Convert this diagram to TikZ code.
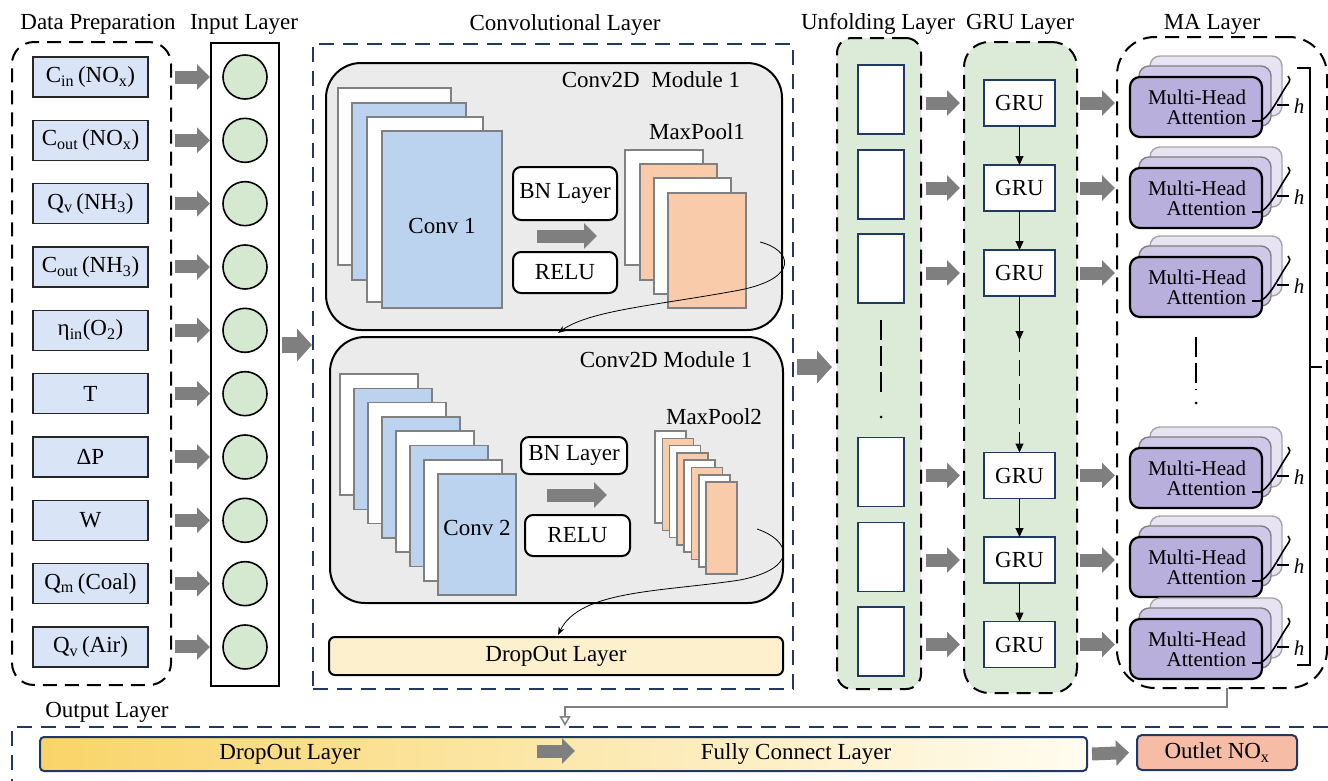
\documentclass[tikz,border=0pt]{standalone}
\usepackage{fontspec}
\setmainfont{Liberation Serif}
\usetikzlibrary{arrows.meta,calc}
\definecolor{dpblue}{HTML}{D9E5F6}
\definecolor{cgreen}{HTML}{D5E8D0}
\definecolor{modgray}{HTML}{EBEBEB}
\definecolor{convblue}{HTML}{BBD3EE}
\definecolor{poolor}{HTML}{F9CBAA}
\definecolor{dropy}{HTML}{FDF0CC}
\definecolor{lgreen}{HTML}{DCEBD8}
\definecolor{navy}{HTML}{1F3864}
\definecolor{mafront}{HTML}{B8AFDC}
\definecolor{mamid}{HTML}{CFC8E8}
\definecolor{maback}{HTML}{E7E3F3}
\definecolor{outletc}{HTML}{F6BCA5}
\definecolor{agray}{HTML}{7F7F7F}
\definecolor{bary}{HTML}{F9D468}
\definecolor{barw}{HTML}{FFFCF0}
\newcommand{\lowsub}[1]{\textsubscript{#1}}
\begin{document}
\begin{tikzpicture}[x=1pt,y=-1pt,
  every node/.style={inner sep=0pt, outer sep=0pt, font=\fontsize{23}{25}\selectfont},
  garrow/.style={draw=agray, line width=13pt, -{Triangle[length=13pt,width=25pt]}},
  bigarrow/.style={draw=agray, line width=16pt, -{Triangle[length=15pt,width=32pt]}},
  datbox/.style={draw=black!85, line width=1.6pt, fill=dpblue, minimum width=115pt, minimum height=40pt},
  incirc/.style={circle, draw=black, line width=1.6pt, fill=cgreen, minimum size=44pt},
  blackdash/.style={draw=black, line width=2pt, dash pattern=on 14pt off 8pt},
  navydash/.style={draw=navy, line width=1.8pt, dash pattern=on 15pt off 9pt},
  modbox/.style={draw=black, line width=2pt, fill=modgray, rounded corners=35pt},
  smallbox/.style={draw=black, line width=2pt, fill=white, rounded corners=8pt},
  fmw/.style={draw=gray, line width=1.6pt, fill=white},
  fmb/.style={draw=gray, line width=1.6pt, fill=convblue},
  fmo/.style={draw=gray, line width=1.6pt, fill=poolor},
  thinarr/.style={draw=black, line width=0.8pt, -{Stealth[length=8pt,width=6pt]}},
  unfbox/.style={draw=navy, line width=1.8pt, fill=white, minimum width=46pt, minimum height=69pt},
  grubox/.style={draw=navy, line width=1.8pt, fill=white, minimum width=71pt, minimum height=46pt},
  gruarr/.style={draw=black, line width=1pt, -{Triangle[length=9pt,width=8pt]}},
  mafr/.style={draw=black, line width=2.2pt, fill=mafront, rounded corners=10pt, minimum width=132pt, minimum height=60pt},
  mamd/.style={draw=gray, line width=1.4pt, fill=mamid, rounded corners=10pt},
  mabk/.style={draw=gray!70, line width=1.4pt, fill=maback, rounded corners=10pt},
  dotdash/.style={draw=black, line width=2pt, dash pattern=on 20pt off 6pt},
]
\useasboundingbox (0,0) rectangle (1328,780);
\fill[white] (0,0) rectangle (1328,780);

% titles
\node (tdp) at (98,24) {Data Preparation};
\node (tin) at (244,24) {Input Layer};
\node (tcv) at (565,25) {Convolutional Layer};
\node (tun) at (878,24) {Unfolding Layer};
\node (tgr) at (1020,24) {GRU Layer};
\node (tma) at (1212,24) {MA Layer};

% data preparation and input layer
\node[blackdash, rounded corners=22pt, minimum width=159pt, minimum height=643pt] (dp) at (91.5,363.5) {};
\node[draw=black, line width=1.8pt, fill=white, minimum width=68pt, minimum height=643pt] (inp) at (245,364.5) {};
\foreach \i/\t in {0/{C\lowsub{in}\,(NO\lowsub{x})},1/{C\lowsub{out}\,(NO\lowsub{x})},2/{Q\lowsub{v}\,(NH\lowsub{3})},3/{C\lowsub{out}\,(NH\lowsub{3})},4/{η\lowsub{in}(O\lowsub{2})},5/{T},6/{ΔP},7/{W},8/{Q\lowsub{m}\,(Coal)},9/{Q\lowsub{v}\,(Air)}}{
  \pgfmathsetmacro\yy{77+63.33*\i}
  \node[datbox] (d\i) at (90.5,\yy) {\t};
  \node[incirc] (c\i) at (245,\yy) {};
  \draw[garrow] ([xshift=4pt]dp.east |- d\i) -- ([xshift=-1pt]inp.west |- d\i);
}

% convolutional layer
\node[navydash, minimum width=480pt, minimum height=645pt] (conv) at (553,366.5) {};
\coordinate (m1) at (0,345);
\draw[bigarrow] ([xshift=3pt]inp.east |- m1) -- ([xshift=-1pt]conv.west |- m1);

% module 1
\node[modbox, minimum width=456pt, minimum height=267pt] (mod1) at (554,196.5) {};
\node (mod1t) at (651,80) {Conv2D\ \ Module 1};
\draw[fmw] (338,88) rectangle (451,265);
\draw[fmb] (352,103) rectangle (466,280);
\draw[fmw] (367,117) rectangle (483,302);
\draw[fmb] (382,131) rectangle (502,308);
\node (conv1t) at (442,226) {Conv 1};
\node[smallbox, minimum width=104pt, minimum height=53pt] (bn1) at (565,193.5) {BN Layer};
\node[smallbox, minimum width=104pt, minimum height=41pt] (relu1) at (565,272.5) {RELU};
\coordinate (a1s) at (537,236); \coordinate (a1e) at (597,236);
\draw[garrow] (a1s) -- (a1e);
\node (mp1t) at (697,132) {MaxPool1};
\draw[fmw] (625,150) rectangle (703,265);
\draw[fmo] (640,164) rectangle (717,280);
\draw[fmw] (654,178) rectangle (731,294);
\draw[fmo] (668,193) rectangle (746,308);

% module 2
\node[modbox, minimum width=453pt, minimum height=266pt] (mod2) at (556.5,470) {};
\node (mod2t) at (666,360) {Conv2D Module 1};
\foreach \i in {0,...,7}{
  \pgfmathsetmacro\xx{340+14*\i}
  \pgfmathsetmacro\yy{374+14.3*\i}
  \ifodd\i \draw[fmb] (\xx,\yy) rectangle ++(78,121); \else \draw[fmw] (\xx,\yy) rectangle ++(78,121); \fi
}
\node (conv2t) at (477,528) {Conv 2};
\node[smallbox, minimum width=106pt, minimum height=37pt] (bn2) at (574,455.5) {BN Layer};
\node[smallbox, minimum width=105pt, minimum height=41pt] (relu2) at (577.5,535.5) {RELU};
\coordinate (a2s) at (547,495); \coordinate (a2e) at (607,495);
\draw[garrow] (a2s) -- (a2e);
\node (mp2t) at (714,417) {MaxPool2};
\foreach \i in {0,...,7}{
  \pgfmathsetmacro\xx{655+7.3*\i}
  \pgfmathsetmacro\yy{431+7.3*\i}
  \ifodd\i \draw[fmo] (\xx,\yy) rectangle ++(31,92); \else \draw[fmw] (\xx,\yy) rectangle ++(31,92); \fi
}
\node[draw=black, line width=2pt, fill=dropy, rounded corners=6pt, minimum width=454pt, minimum height=38pt] (drop1) at (556,656) {DropOut Layer};

% curved arrows
\coordinate (cv1s) at (760,242); \coordinate (cv1e) at (558,333);
\draw[thinarr] (cv1s) .. controls (792,250) and (800,278) .. (740,290) .. controls (660,305) and (590,310) .. (cv1e);
\coordinate (cv2s) at (757,529); \coordinate (cv2e) at (558,635);
\draw[thinarr] (cv2s) .. controls (790,540) and (800,568) .. (740,580) .. controls (660,592) and (580,590) .. (cv2e);

% unfolding layer
\node[blackdash, fill=lgreen, rounded corners=15pt, minimum width=84pt, minimum height=651pt] (unf) at (879,363.5) {};
\coordinate (m2) at (0,367);
\draw[bigarrow] ([xshift=4pt]conv.east |- m2) -- ([xshift=-5pt]unf.west |- m2);
\foreach \i/\yy in {1/99.5,2/184.5,3/268.5,4/472,5/557,6/641.5}{
  \node[unfbox] (u\i) at (881,\yy) {};
}
\coordinate (ud1) at (881,320); \coordinate (ud2) at (881,397);
\draw[dotdash] (ud1) -- (ud2);
\node[circle, fill=black, minimum size=3pt] (udot) at (881,417) {};

% GRU layer
\node[blackdash, fill=lgreen, rounded corners=25pt, minimum width=113pt, minimum height=651pt] (grul) at (1020.5,367.5) {};
\node[blackdash, rounded corners=38pt, minimum width=210pt, minimum height=651pt] (mal) at (1222,362.5) {};
\foreach \i/\yy in {1/103,2/188,3/273,4/475.5,5/560,6/644.5}{
  \node[grubox] (g\i) at (1019.5,\yy) {GRU};
  \draw[garrow] ([xshift=5pt]unf.east |- g\i) -- ([xshift=-4pt]grul.west |- g\i);
  \draw[garrow] ([xshift=3pt]grul.east |- g\i) -- ([xshift=-2pt]mal.west |- g\i);
}
\draw[gruarr] (g1.south) -- (g2.north);
\draw[gruarr] (g2.south) -- (g3.north);
\coordinate (gm1) at (1019.5,340);
\draw[gruarr] (g3.south) -- (gm1);
\draw[gruarr, dash pattern=on 16pt off 8pt] ([yshift=4pt]gm1) -- (g4.north);
\draw[gruarr] (g4.south) -- (g5.north);
\draw[gruarr] (g5.south) -- (g6.north);

% MA layer
\foreach \i/\yy in {1/107,2/198,3/287,4/478,5/567,6/649}{
  \draw[mabk] (1150,\yy-51) rectangle ++(132,60);
  \draw[mamd] (1139,\yy-41) rectangle ++(132,60);
  \node[mafr] (ma\i) at (1196,\yy) {};
  \node[font=\fontsize{21}{20}\selectfont, align=right, anchor=east] (mat\i) at (1246,\yy) {Multi-Head\\Attention};
  \draw[line width=1.6pt] (1252,\yy+14) -- (1260,\yy+14) .. controls (1270,\yy+10) and (1280,\yy-12) .. (1287,\yy-22) .. controls (1291,\yy-27) and (1290,\yy-29) .. (1288,\yy-31);
  \draw[line width=1.6pt] (1277,\yy-2) -- (1289,\yy-2);
  \node[font=\itshape\fontsize{21}{21}\selectfont] (h\i) at (1299,\yy-1) {h};
}
\draw[line width=2pt] (1297,68) -- (1310,68) -- (1310,665) -- (1297,665);
\draw[line width=2pt] (1310,367) -- (1322,367);
\coordinate (md1) at (1196,337); \coordinate (md2) at (1196,390);
\draw[dotdash] (md1) -- (md2);
\node[circle, fill=black, minimum size=3pt] (mdot) at (1196,403) {};

% output layer
\node (outt) at (107,712) {Output Layer};
\draw[navydash] (1328,727) -- (12,727) -- (12,782);
\node[draw=navy, line width=2pt, left color=bary, right color=barw, rounded corners=4pt, minimum width=1047pt, minimum height=34pt] (bar) at (563.5,754) {};
\node (bar1) at (290,754) {DropOut Layer};
\node (bar2) at (796,754) {Fully Connect Layer};
\coordinate (a3s) at (537,751); \coordinate (a3e) at (575,751);
\draw[garrow] (a3s) -- (a3e);
\node[draw=navy, line width=2pt, fill=outletc, rounded corners=5pt, minimum width=160pt, minimum height=35pt] (outl) at (1217,752.5) {Outlet NO\lowsub{x}};
\draw[garrow] ([xshift=5pt]bar.east) -- ([xshift=-8pt]outl.west);

% MA to output connector
\coordinate (mo1) at (1227,707); \coordinate (mo2) at (565,707); \coordinate (mo3) at (565,726);
\draw[draw=gray, line width=2.5pt, -{Triangle[open, length=10pt, width=11pt, line width=1.5pt]}] (mal.south -| mo1) -- (mo1) -- (mo2) -- (mo3);
\end{tikzpicture}
\end{document}
